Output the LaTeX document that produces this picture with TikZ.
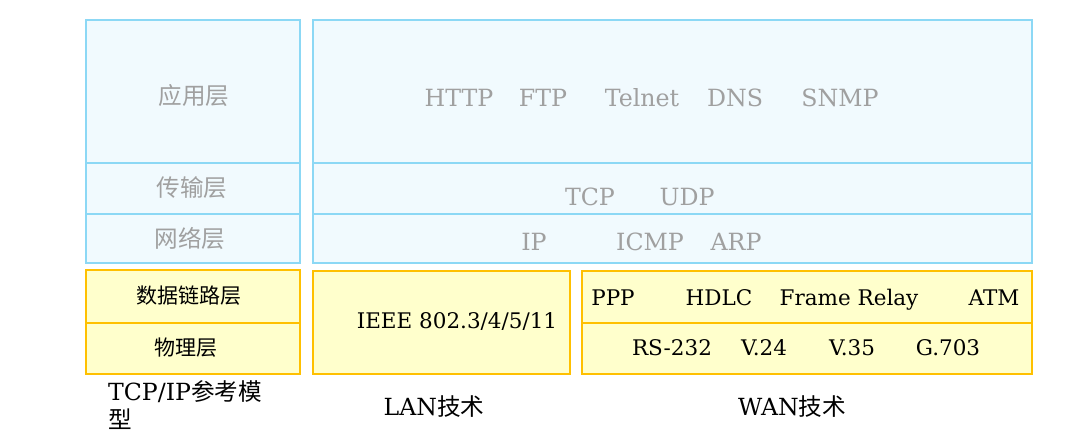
\documentclass[tikz,border=0pt]{standalone}
\usepackage{fontspec}
\setmainfont{DejaVu Serif}
\newfontfamily\cjk{Noto Sans CJK SC}
\definecolor{bfill}{RGB}{241,250,254}
\definecolor{bline}{RGB}{140,216,245}
\definecolor{yfill}{RGB}{255,255,204}
\definecolor{yline}{RGB}{255,192,0}
\definecolor{gtext}{RGB}{160,160,160}
\tikzset{
  cell/.style={rectangle, inner sep=0pt, outer sep=0pt, line width=1.2pt, anchor=north west},
  bluecell/.style={cell, draw=bline, fill=bfill},
  yelcell/.style={cell, draw=yline, fill=yfill},
  gtxt/.style={inner sep=0pt, text=gtext, font=\fontsize{23.7}{28}\selectfont},
  gcjk/.style={inner sep=0pt, text=gtext, font=\fontsize{23.6}{28}\selectfont\cjk},
  btxt/.style={inner sep=0pt, text=black, font=\fontsize{21.5}{25}\selectfont},
  bcjk/.style={inner sep=0pt, text=black, font=\fontsize{21}{25}\selectfont\cjk},
  ltxt/.style={inner sep=0pt, text=black, font=\fontsize{23.6}{28}\selectfont},
}
\begin{document}
\begin{tikzpicture}[x=1pt,y=-1pt]
\useasboundingbox (0,0) rectangle (1069,441);
% blue cells
\node[bluecell, minimum width=214pt, minimum height=143pt] (appL) at (86,20) {};
\node[bluecell, minimum width=214pt, minimum height=51pt] (traL) at (86,163) {};
\node[bluecell, minimum width=214pt, minimum height=49pt] (netL) at (86,214) {};
\node[bluecell, minimum width=719pt, minimum height=143pt] (appR) at (313,20) {};
\node[bluecell, minimum width=719pt, minimum height=51pt] (traR) at (313,163) {};
\node[bluecell, minimum width=719pt, minimum height=49pt] (netR) at (313,214) {};
% yellow cells
\node[yelcell, minimum width=214pt, minimum height=53pt] (dlL) at (86,270) {};
\node[yelcell, minimum width=214pt, minimum height=51pt] (phL) at (86,323) {};
\node[yelcell, minimum width=257pt, minimum height=103pt] (lan) at (313,271) {};
\node[yelcell, minimum width=450pt, minimum height=52pt] (dlR) at (582,271) {};
\node[yelcell, minimum width=450pt, minimum height=51pt] (phR) at (582,323) {};
% left labels
\node[gcjk] (t1) at (194,96) {应用层};
\node[gcjk] (t2) at (192,188) {传输层};
\node[gcjk] (t3) at (190,238) {网络层};
\node[bcjk] (t4) at (189,296) {数据链路层};
\node[bcjk] (t5) at (186,348) {物理层};
% application protocols
\node[gtxt, anchor=base] (http) at (459,107) {HTTP};
\node[gtxt, anchor=base] (ftp) at (543,107) {FTP};
\node[gtxt, anchor=base] (telnet) at (642,107) {Telnet};
\node[gtxt, anchor=base] (dns) at (735,107) {DNS};
\node[gtxt, anchor=base] (snmp) at (840,107) {SNMP};
% transport
\node[gtxt, anchor=base] (tcp) at (590,205) {TCP};
\node[gtxt, anchor=base] (udp) at (687,205) {UDP};
% network
\node[gtxt, anchor=base] (ip) at (534,251) {IP};
\node[gtxt, anchor=base] (icmp) at (650,251) {ICMP};
\node[gtxt, anchor=base] (arp) at (736,251) {ARP};
% LAN
\node[btxt, anchor=base] (ieee) at (457,328) {IEEE 802.3/4/5/11};
% WAN
\node[btxt, anchor=base] (ppp) at (613,305) {PPP};
\node[btxt, anchor=base] (hdlc) at (719,305) {HDLC};
\node[btxt, anchor=base] (fr) at (849,305) {Frame Relay};
\node[btxt, anchor=base] (atm) at (994,305) {ATM};
\node[btxt, anchor=base] (rs) at (672,355) {RS-232};
\node[btxt, anchor=base] (v24) at (764,355) {V.24};
\node[btxt, anchor=base] (v35) at (852,355) {V.35};
\node[btxt, anchor=base] (g703) at (948,355) {G.703};
% captions
\node[ltxt, anchor=base west] (cap1) at (108,400) {TCP/IP{\cjk 参考模}};
\node[ltxt, anchor=base west] (cap1b) at (108,428) {\cjk 型};
\node[ltxt, anchor=base] (cap2) at (434,415) {LAN{\cjk 技术}};
\node[ltxt, anchor=base] (cap3) at (792,415) {WAN{\cjk 技术}};
\end{tikzpicture}
\end{document}
